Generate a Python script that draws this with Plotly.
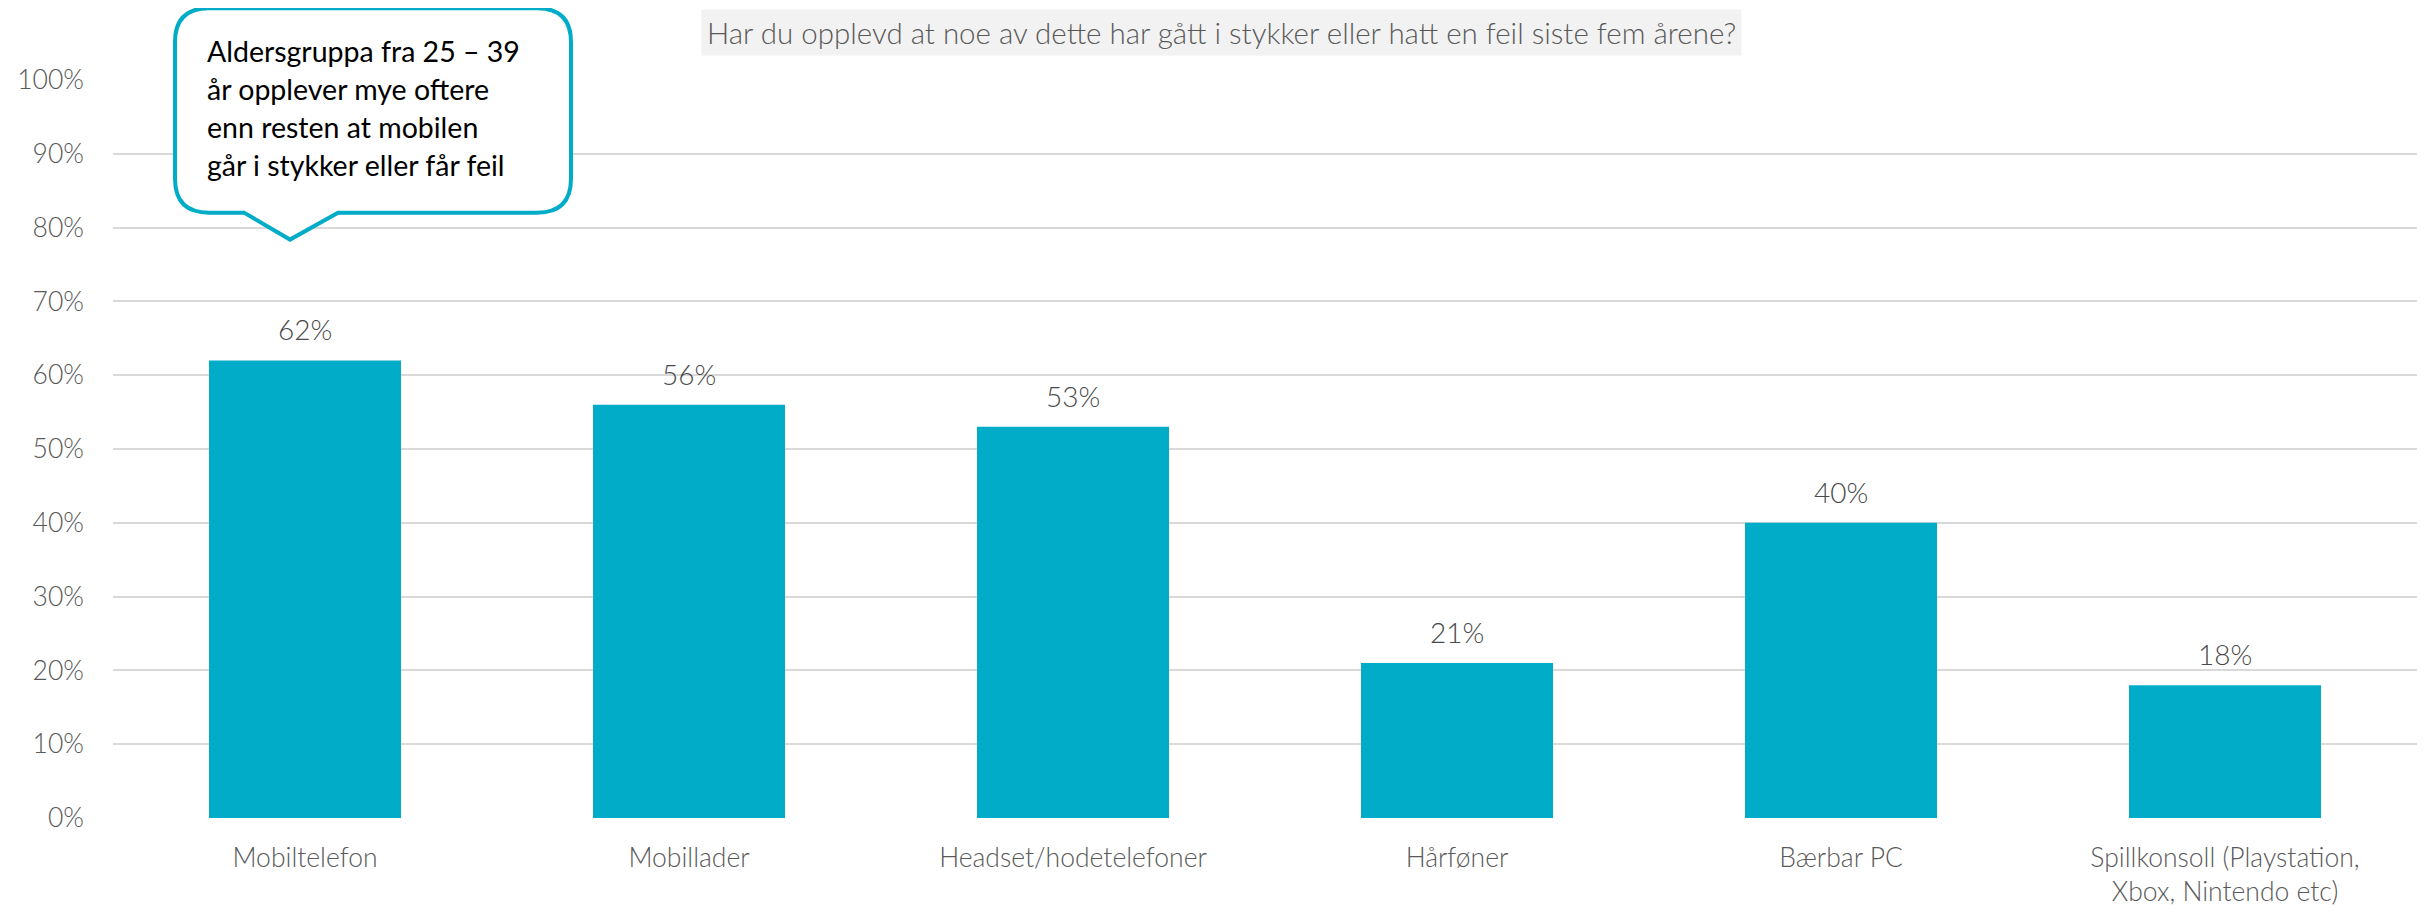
import plotly.graph_objects as go

categories = ["Mobiltelefon", "Mobillader", "Headset/hodetelefoner", "Hårføner",
              "Bærbar PC", "Spillkonsoll (Playstation,<br>Xbox, Nintendo etc)"]
values = [0.62, 0.56, 0.53, 0.21, 0.40, 0.18]
value_labels = ["62%", "56%", "53%", "21%", "40%", "18%"]
tick_vals = [0, 0.1, 0.2, 0.3, 0.4, 0.5, 0.6, 0.7, 0.8, 0.9, 1.0]
tick_text = ["0%", "10%", "20%", "30%", "40%", "50%", "60%", "70%", "80%", "90%", "100%"]
title_text = "Har du opplevd at noe av dette har gått i stykker eller hatt en feil siste fem årene?"
callout_lines = ["Aldersgruppa fra 25 – 39", "år opplever mye oftere",
                 "enn resten at mobilen", "går i stykker eller får feil"]

# page body has an 8px margin: work in screen pixels and subtract it
OFF = 8
W, H = 2425 - OFF, 915 - OFF
L, R, T, B = 113 - OFF, 2417 - OFF, 80 - OFF, 820 - OFF
FONT = "Lato"
GREY = "#595959"
TEAL = "#00ACC7"


def px2x(px):
    return (px - OFF - L) / (R - L)


def py2y(py):
    return (B - (py - OFF)) / (B - T)


fig = go.Figure()
fig.add_trace(go.Bar(x=categories, y=values, marker=dict(color=TEAL, line=dict(width=0)),
                     hoverinfo="skip"))

annotations = []
for c, v, t in zip(categories, values, value_labels):
    annotations.append(dict(x=c, y=v, xref="x", yref="y", text=t, showarrow=False,
                            yanchor="middle", yshift=31,
                            font=dict(family=FONT, size=28, color="#4A4A4A", weight=300)))

# title box
annotations.append(dict(x=px2x(1221), y=py2y(32), xref="paper", yref="paper",
                        text=title_text, showarrow=False, xanchor="center", yanchor="middle",
                        bgcolor="#F2F2F2", borderpad=5,
                        font=dict(family=FONT, size=29.5, color=GREY, weight=300)))

# callout text lines
line_y = [51, 89, 127, 165]
for ln, yy in zip(callout_lines, line_y):
    annotations.append(dict(x=px2x(205), y=py2y(yy), xref="paper", yref="paper", text=ln,
                            showarrow=False, xanchor="left", yanchor="middle",
                            font=dict(family=FONT, size=28.5, color="#000000")))

# callout shape (rounded rectangle with pointer)
x0, x1, y0, y1, r = 175, 571, 8, 213, 34
bx0, bx1, tipx, tipy = 244, 338, 290, 240


def P(px, py):
    return f"{px2x(px):.5f},{py2y(py):.5f}"


path = (f"M {P(x0 + r, y0)} L {P(x1 - r, y0)} Q {P(x1, y0)} {P(x1, y0 + r)} "
        f"L {P(x1, y1 - r)} Q {P(x1, y1)} {P(x1 - r, y1)} "
        f"L {P(bx1, y1)} L {P(tipx, tipy)} L {P(bx0, y1)} "
        f"L {P(x0 + r, y1)} Q {P(x0, y1)} {P(x0, y1 - r)} "
        f"L {P(x0, y0 + r)} Q {P(x0, y0)} {P(x0 + r, y0)} Z")

fig.update_layout(
    width=W, height=H, autosize=False,
    margin=dict(l=L, r=W - R, t=T, b=H - B, pad=0),
    paper_bgcolor="white", plot_bgcolor="white",
    bargap=0.5, showlegend=False,
    annotations=annotations,
    shapes=[dict(type="path", xref="paper", yref="paper", path=path,
                 line=dict(color=TEAL, width=4), fillcolor="white", layer="above")],
    xaxis=dict(showgrid=False, showline=False, zeroline=False, ticks="",
               tickfont=dict(family=FONT, size=26.5, color=GREY, weight=300),
               ticklabelstandoff=21),
    yaxis=dict(range=[0, 1.0], tickvals=tick_vals, ticktext=tick_text,
               showgrid=True, gridcolor="#D9D9D9", gridwidth=2,
               zeroline=False, showline=False, ticks="",
               tickfont=dict(family=FONT, size=26.5, color=GREY, weight=300),
               ticklabelstandoff=28),
)
fig.update_yaxes(layer="below traces")

fig.write_html("out.html")
